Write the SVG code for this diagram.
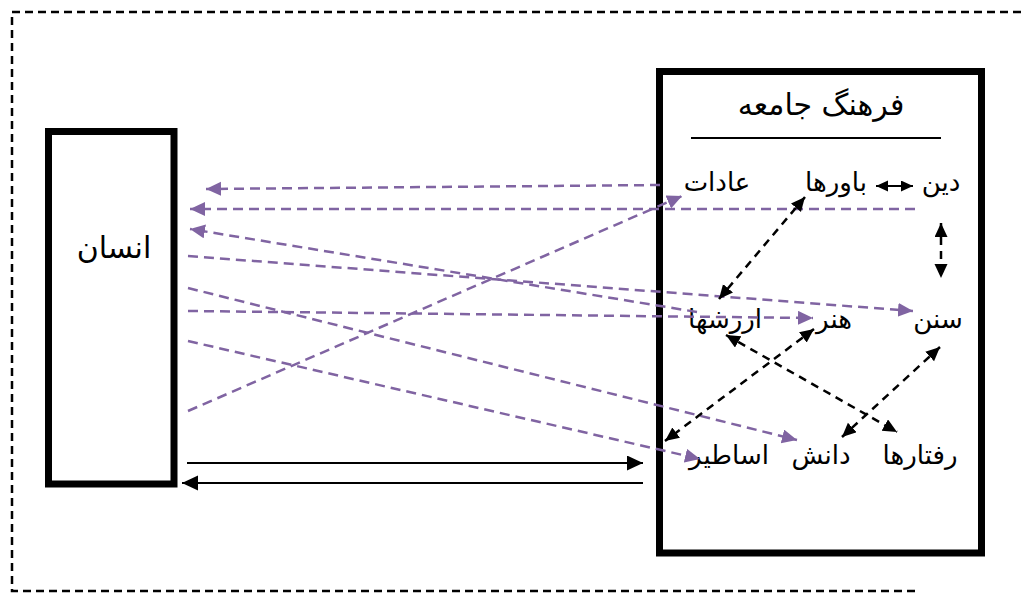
<svg xmlns="http://www.w3.org/2000/svg" width="1021" height="593" viewBox="0 0 1021 593">
<defs>
<style>
.box{fill:#fff;stroke:#000;stroke-width:7}
.frame{fill:none;stroke:#000;stroke-width:2.5;stroke-dasharray:8 5}
.pur{fill:none;stroke:#8064A2;stroke-width:2.5;stroke-dasharray:10 6;marker-end:url(#mp)}
.bd{fill:none;stroke:#000;stroke-width:2.5;stroke-dasharray:8 6;marker-start:url(#mb);marker-end:url(#mb)}
.bs{fill:none;stroke:#000;stroke-width:2;marker-end:url(#mbl)}
.lbl{font-family:"DejaVu Sans",sans-serif;font-size:26px;fill:#000;text-anchor:middle}
.big{font-family:"DejaVu Sans",sans-serif;font-size:30px;fill:#000;text-anchor:middle}
</style>
<marker id="mp" markerUnits="userSpaceOnUse" markerWidth="16" markerHeight="16" refX="15" refY="7" orient="auto-start-reverse"><path d="M0,0 L15,7 L0,14 z" fill="#8064A2"/></marker>
<marker id="mb" markerUnits="userSpaceOnUse" markerWidth="16" markerHeight="16" refX="14" refY="6.5" orient="auto-start-reverse"><path d="M0,0 L14,6.5 L0,13 z" fill="#000"/></marker>
<marker id="mbl" markerUnits="userSpaceOnUse" markerWidth="18" markerHeight="16" refX="16" refY="7.5" orient="auto-start-reverse"><path d="M0,0 L16,7.5 L0,15 z" fill="#000"/></marker>
<marker id="ms" markerUnits="userSpaceOnUse" markerWidth="14" markerHeight="14" refX="12" refY="5.5" orient="auto-start-reverse"><path d="M0,0 L12,5.5 L0,11 z" fill="#000"/></marker>
</defs>
<path class="frame" d="M1021,12 H12 V591 H915"/>
<g id="node-ensan">
<rect class="box" x="48.5" y="131.5" width="125.5" height="352.5"/>
<text class="big" x="114" y="258">انسان</text>
</g>
<g id="node-farhang">
<rect class="box" x="659.5" y="71.5" width="322" height="481.5"/>
<text class="big" x="821" y="115">فرهنگ جامعه</text>
<line x1="691" y1="138" x2="941" y2="138" stroke="#000" stroke-width="2"/>
</g>
<g id="node-din"><text class="lbl" x="941" y="191">دین</text></g>
<g id="node-bavarha"><text class="lbl" x="836" y="191">باورها</text></g>
<g id="node-adat"><text class="lbl" x="717" y="191">عادات</text></g>
<g id="node-sonan"><text class="lbl" x="938" y="328">سنن</text></g>
<g id="node-honar"><text class="lbl" x="834" y="328">هنر</text></g>
<g id="node-arzeshha"><text class="lbl" x="725" y="328">ارزشها</text></g>
<g id="node-raftarha"><text class="lbl" x="920" y="464">رفتارها</text></g>
<g id="node-danesh"><text class="lbl" x="821" y="464">دانش</text></g>
<g id="node-asatir"><text class="lbl" x="729" y="464">اساطیر</text></g>
<g id="connectors">
<path class="pur" d="M660,185 L206,189"/>
<path class="pur" d="M915,209 L190,209"/>
<path class="pur" d="M697,312 L190,229"/>
<path class="pur" d="M188,256 L913,311"/>
<path class="pur" d="M188,311 L813,318"/>
<path class="pur" d="M188,288 L797,440"/>
<path class="pur" d="M188,341 L700,459"/>
<path class="pur" d="M188,411 L682,196"/>
<path class="bd" d="M805,197 L719,299"/>
<path class="bd" d="M941,223 L941,278"/>
<path class="bd" d="M940,347 L842,437"/>
<path class="bd" d="M726,335 L897,432"/>
<path class="bd" d="M814,329 L665,441"/>
<path class="bs" d="M187,463 L643,463"/>
<path class="bs" d="M643,483 L182,483"/>
<path d="M876,186 L913,186" fill="none" stroke="#000" stroke-width="2" marker-start="url(#ms)" marker-end="url(#ms)"/>
</g>
</svg>
